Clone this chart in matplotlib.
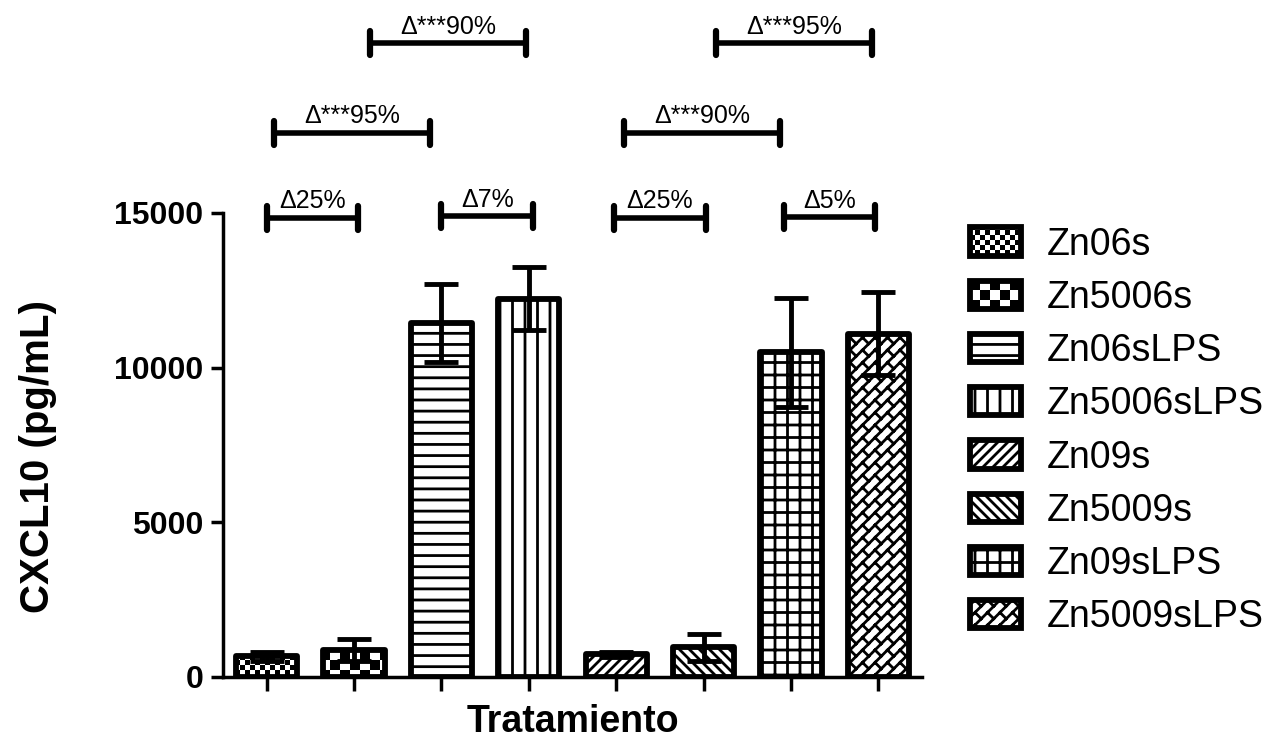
import warnings
import numpy as np
import matplotlib
matplotlib.use("Agg")
import matplotlib.pyplot as plt
import matplotlib.hatch as mhatch
from matplotlib.path import Path

warnings.filterwarnings("ignore")

# Datos: CXCL10 (pg/mL), media y desviación por tratamiento
tratamientos = ["Zn06s", "Zn5006s", "Zn06sLPS", "Zn5006sLPS",
                "Zn09s", "Zn5009s", "Zn09sLPS", "Zn5009sLPS"]
medias = [670, 880, 11450, 12230, 730, 955, 10500, 11100]
errores = [150, 350, 1270, 1010, 80, 430, 1760, 1330]
tramas = ["c", "C", "h", "v", "d", "D", "g", "b"]

# Comparaciones: (inicio, fin, altura, texto)
comparaciones = [
    (0.00, 1.05, 14850, "Δ25%"),
    (0.08, 1.87, 17600, "Δ***95%"),
    (1.18, 2.97, 20500, "Δ***90%"),
    (2.00, 3.05, 14900, "Δ7%"),
    (3.97, 5.03, 14850, "Δ25%"),
    (4.09, 5.88, 17600, "Δ***90%"),
    (5.14, 6.93, 20500, "Δ***95%"),
    (5.92, 6.96, 14870, "Δ5%"),
]

HATCH_LW = 2.0  # pt
plt.rcParams["hatch.linewidth"] = HATCH_LW
plt.rcParams["font.family"] = ["Liberation Sans", "DejaVu Sans"]

# --- tramas propias (ajedrez, ladrillos...) en la celda unitaria de la trama ---
_d = HATCH_LW / 72 / 2  # medio grosor de línea en unidades de celda


def _cuadros(n):
    v, c = [], []
    s = 1.0 / n
    for i in range(n):
        for j in range(n):
            if (i + j) % 2 == 0:
                x0, y0 = i * s + _d, j * s + _d
                x1, y1 = (i + 1) * s - _d, (j + 1) * s - _d
                v += [(x0, y0), (x1, y0), (x1, y1), (x0, y1), (x0, y0)]
                c += [Path.MOVETO, Path.LINETO, Path.LINETO, Path.LINETO, Path.CLOSEPOLY]
    return v, c


def _segmentos(lista):
    v, c = [], []
    for a, b in lista:
        v += [a, b]
        c += [Path.MOVETO, Path.LINETO]
    return v, c


def _horizontales(n):
    return _segmentos([((-0.1, k / n), (1.1, k / n)) for k in range(n + 1)])


def _verticales(n):
    return _segmentos([((k / n, -0.1), (k / n, 1.1)) for k in range(n + 1)])


def _diag_sube(n):
    return _segmentos([((k / n, 0), (k / n + 1, 1)) for k in range(-n, n + 1)])


def _diag_baja(n):
    return _segmentos([((k / n, 1), (k / n + 1, 0)) for k in range(-n, n + 1)])


def _rejilla(n):
    v1, c1 = _horizontales(n)
    v2, c2 = _verticales(n)
    return v1 + v2, c1 + c2


def _ladrillos(n, p):
    v, c = _diag_sube(n)
    segs = []
    for k in range(-n - 1, n + 1):
        for m in range(-2, 2 * p + 2):
            cc = (m + 0.5 * (k % 2)) / p
            a = ((cc + k / n) / 2, (cc - k / n) / 2)
            b = ((cc + (k + 1) / n) / 2, (cc - (k + 1) / n) / 2)
            mx, my = (a[0] + b[0]) / 2, (a[1] + b[1]) / 2
            if -0.2 < mx < 1.2 and -0.2 < my < 1.2:
                segs.append((a, b))
    v2, c2 = _segmentos(segs)
    return v + v2, c + c2


TRAMAS = {
    "c": lambda: _cuadros(20),
    "C": lambda: _cuadros(10),
    "h": lambda: _horizontales(9),
    "v": lambda: _verticales(8),
    "d": lambda: _diag_sube(10),
    "D": lambda: _diag_baja(10),
    "g": lambda: _rejilla(8),
    "b": lambda: _ladrillos(8, 4),
}


class TramaPropia(mhatch.HatchPatternBase):
    def __init__(self, hatch, density):
        v, c = [], []
        for ch in sorted(set(hatch)):
            if ch in TRAMAS:
                vv, cc = TRAMAS[ch]()
                v += vv
                c += cc
        self._v = np.array(v, dtype=float).reshape(-1, 2)
        self._c = np.array(c, dtype=Path.code_type)
        self.num_vertices = len(self._v)

    def set_vertices_and_codes(self, vertices, codes):
        vertices[:] = self._v
        codes[:] = self._c


mhatch._hatch_types.append(TramaPropia)

# --- figura ---
fig = plt.figure(figsize=(12.81, 7.38), dpi=100)
ax = fig.add_axes([223 / 1281, 61 / 738, 699 / 1281, 464 / 738])

x = np.arange(len(tratamientos))
for i in range(len(tratamientos)):
    ax.bar(x[i], medias[i], width=0.7, color="white", edgecolor="black",
           linewidth=4.2, hatch=tramas[i], joinstyle="round",
           label=tratamientos[i], zorder=2)

ax.errorbar(x, medias, yerr=errores, fmt="none", ecolor="black",
            elinewidth=3.5, capsize=12, capthick=3.5, zorder=3)

for x1, x2, y, texto in comparaciones:
    ax.plot([x1, x2], [y, y], color="black", lw=4, clip_on=False,
            solid_capstyle="butt", zorder=4)
    for xx in (x1, x2):
        ax.plot([xx, xx], [y - 390, y + 390], color="black", lw=4.5,
                clip_on=False, solid_capstyle="round", zorder=4)
    ax.text((x1 + x2) / 2, y + 300, texto, ha="center", va="baseline",
            fontsize=18, clip_on=False)

ax.set_xlim(-0.5, 7.5)
ax.set_ylim(0, 15000)
ax.set_yticks([0, 5000, 10000, 15000])
ax.set_xticks(x)
ax.set_xticklabels([""] * len(x))

for lado in ("top", "right"):
    ax.spines[lado].set_visible(False)
for lado in ("left", "bottom"):
    ax.spines[lado].set_linewidth(2.5)

ax.tick_params(axis="y", direction="out", length=9, width=2.5, pad=5,
               labelsize=23)
ax.tick_params(axis="x", direction="out", length=10, width=2.5)
for t in ax.get_yticklabels():
    t.set_fontweight("bold")

ax.set_ylabel("CXCL10 (pg/mL)", fontsize=29, fontweight="bold")
ax.yaxis.set_label_coords(-0.2375, 0.476)
ax.set_xlabel("Tratamiento", fontsize=27, fontweight="bold", labelpad=6)

ax.legend(loc="center left", bbox_to_anchor=(970 / 1281, 1 - 431 / 738),
          bbox_transform=fig.transFigure, frameon=False, fontsize=27,
          handlelength=1.36, handleheight=0.78, handletextpad=0.68,
          labelspacing=0.46, borderpad=0, borderaxespad=0)

fig.savefig("out.png", dpi=100)
